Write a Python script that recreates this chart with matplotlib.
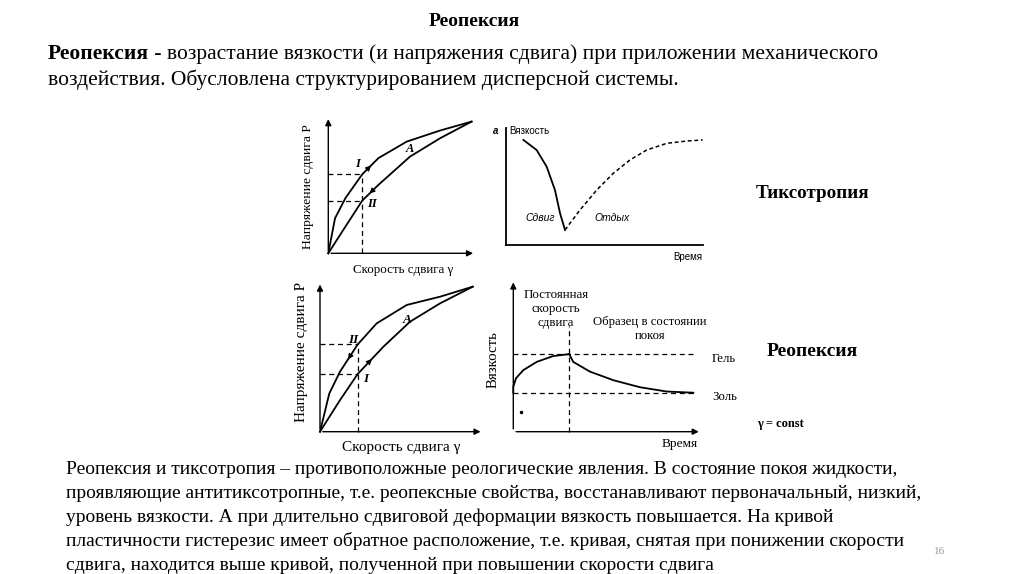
import numpy as np
import matplotlib
matplotlib.use("Agg")
import matplotlib.pyplot as plt

W, H = 1024, 574
SERIF = "Liberation Serif"
SANS = "Liberation Sans"

# --- диаграмма 1: тиксотропия, кривые течения (x, y в долях от конечной точки)
tix_up_x = [0, 0.047, 0.12, 0.237, 0.349, 0.547, 0.779, 1.0]
tix_up_y = [0, 0.266, 0.42, 0.60, 0.722, 0.848, 0.932, 1.0]
tix_dn_x = [0, 0.10, 0.237, 0.349, 0.570, 0.779, 1.0]
tix_dn_y = [0, 0.17, 0.400, 0.519, 0.734, 0.873, 1.0]
tix_gamma = 0.237

# --- диаграмма 2: вязкость во времени (сдвиг / отдых)
shear_t = [0.90, 1.57, 2.08, 2.50, 2.76, 3.01]
shear_v = [0.90, 0.814, 0.671, 0.471, 0.271, 0.129]
rest_t = [3.01, 3.77, 4.62, 5.46, 6.31, 7.16, 8.17, 9.19, 10.0]
rest_v = [0.129, 0.300, 0.471, 0.614, 0.729, 0.814, 0.871, 0.891, 0.90]

# --- диаграмма 3: реопексия, кривые течения
rheo_up_x = [0, 0.061, 0.131, 0.247, 0.371, 0.568, 0.786, 1.0]
rheo_up_y = [0, 0.264, 0.414, 0.602, 0.747, 0.874, 0.931, 1.0]
rheo_dn_x = [0, 0.131, 0.247, 0.415, 0.590, 0.786, 1.0]
rheo_dn_y = [0, 0.218, 0.398, 0.586, 0.759, 0.885, 1.0]
rheo_gamma = 0.247

# --- диаграмма 4: вязкость при gamma = const
load_t = [0, 0.15, 0.56, 1.30, 2.22, 3.11]
load_v = [1.15, 1.37, 1.58, 1.79, 1.94, 1.99]
relax_t = [3.11, 3.33, 4.26, 5.56, 7.04, 8.52, 10.0]
relax_v = [1.99, 1.79, 1.54, 1.32, 1.14, 1.03, 1.0]
gel, sol = 2.0, 1.0

fig = plt.figure(figsize=(W / 100, H / 100), dpi=100)
fig.patch.set_facecolor("white")


def panel(ox, oy, sx, sy, xlim, ylim):
    # оси, где точка (0,0) попадает в пиксель (ox, oy), sx/sy - пикселей на единицу
    left = ox + xlim[0] * sx
    bottom = oy - ylim[0] * sy
    ax = fig.add_axes([left / W, 1 - bottom / H,
                       (xlim[1] - xlim[0]) * sx / W, (ylim[1] - ylim[0]) * sy / H])
    ax.set_xlim(*xlim)
    ax.set_ylim(*ylim)
    ax.axis("off")
    return ax


def arrows(ax, xmax, ymax):
    kw = dict(arrowstyle="-|>", color="black", lw=1.0, mutation_scale=9)
    ax.annotate("", xy=(0, ymax), xytext=(0, 0), arrowprops=kw)
    ax.annotate("", xy=(xmax, 0), xytext=(0, 0), arrowprops=kw)


def mid_arrow(ax, xs, ys, i, reverse=False):
    p0 = np.array([xs[i], ys[i]])
    p1 = np.array([xs[i + 1], ys[i + 1]])
    m = (p0 + p1) / 2
    d = (p1 - p0) * 0.05
    if reverse:
        d = -d
    ax.annotate("", xy=m + d, xytext=m - d,
                arrowprops=dict(arrowstyle="-|>", color="black", lw=0.8,
                                mutation_scale=8))


def txt(x, y, s, **kw):
    kw.setdefault("family", SERIF)
    return fig.text(x / W, 1 - y / H, s, **kw)


dash = dict(color="black", lw=0.9, ls=(0, (4, 3)))

# ---------- диаграмма 1
ax1 = panel(328.3, 253.3, 143.3, 131.7, (-0.35, 1.15), (-0.3, 1.12))
arrows(ax1, 1.03, 1.04)
ax1.plot(tix_up_x, tix_up_y, color="black", lw=1.3)
ax1.plot(tix_dn_x, tix_dn_y, color="black", lw=1.3)
yu = np.interp(tix_gamma, tix_up_x, tix_up_y)
yd = np.interp(tix_gamma, tix_dn_x, tix_dn_y)
ax1.plot([tix_gamma, tix_gamma], [0, yu], **dash)
ax1.plot([0, tix_gamma], [yu, yu], **dash)
ax1.plot([0, tix_gamma], [yd, yd], **dash)
mid_arrow(ax1, tix_up_x, tix_up_y, 3)
mid_arrow(ax1, tix_dn_x, tix_dn_y, 2, reverse=True)
txt(358, 164, "I", fontsize=9, style="italic", weight="bold", ha="center", va="center")
txt(372, 204, "II", fontsize=9, style="italic", weight="bold", ha="center", va="center")
txt(410, 149, "A", fontsize=9, style="italic", weight="bold", ha="center", va="center")
txt(308, 187, "Напряжение сдвига P", fontsize=9.7, rotation=90, ha="center", va="center")
txt(403, 270, "Скорость сдвига γ", fontsize=9.4, ha="center", va="center")

# ---------- диаграмма 2
ax2 = panel(505.7, 245.0, 19.7, 116.7, (-0.8, 10.4), (-0.35, 1.12))
ax2.plot([0, 0], [0, 1.0], color="black", lw=1.3)
ax2.plot([0, 10.0], [0, 0], color="black", lw=1.3)
ax2.plot(shear_t, shear_v, color="black", lw=1.3)
ax2.plot(rest_t, rest_v, color="black", lw=1.1, ls=(0, (2.5, 1.8)))
txt(496, 131, "а", family=SANS, fontsize=7, style="italic", weight="bold", ha="center", va="center")
txt(509, 131, "Вязкость", family=SANS, fontsize=7, ha="left", va="center")
txt(540, 218, "Сдвиг", family=SANS, fontsize=7.5, style="italic", ha="center", va="center")
txt(612, 218, "Отдых", family=SANS, fontsize=7.5, style="italic", ha="center", va="center")
txt(702, 257, "Время", family=SANS, fontsize=7, ha="right", va="center")

# ---------- диаграмма 3
ax3 = panel(320.0, 431.7, 152.7, 145.0, (-0.3, 1.15), (-0.25, 1.06))
arrows(ax3, 1.07, 1.034)
ax3.plot(rheo_up_x, rheo_up_y, color="black", lw=1.3)
ax3.plot(rheo_dn_x, rheo_dn_y, color="black", lw=1.3)
yu = np.interp(rheo_gamma, rheo_up_x, rheo_up_y)
yd = np.interp(rheo_gamma, rheo_dn_x, rheo_dn_y)
ax3.plot([rheo_gamma, rheo_gamma], [0, yu], **dash)
ax3.plot([0, rheo_gamma], [yu, yu], **dash)
ax3.plot([0, rheo_gamma], [yd, yd], **dash)
mid_arrow(ax3, rheo_up_x, rheo_up_y, 2, reverse=True)
mid_arrow(ax3, rheo_dn_x, rheo_dn_y, 2)
txt(353, 340, "II", fontsize=9.5, style="italic", weight="bold", ha="center", va="center")
txt(366, 379, "I", fontsize=9.5, style="italic", weight="bold", ha="center", va="center")
txt(407, 320, "A", fontsize=9.5, style="italic", weight="bold", ha="center", va="center")
txt(302, 352, "Напряжение сдвига P", fontsize=11, rotation=90, ha="center", va="center")
txt(401, 447, "Скорость сдвига γ", fontsize=11, ha="center", va="center")

# ---------- диаграмма 4
ax4 = panel(513.3, 431.7, 18.0, 39.0, (-1.5, 11.5), (-0.6, 4.0))
arrows(ax4, 10.46, 3.9)
ax4.plot([0, 10.0], [gel, gel], **dash)
ax4.plot([0, 10.0], [sol, sol], **dash)
ax4.plot([load_t[-1], load_t[-1]], [0, 2.7], **dash)
ax4.plot([0] + load_t, [sol] + load_v, color="black", lw=1.3)
ax4.plot(relax_t, relax_v, color="black", lw=1.3)
ax4.plot([0.45], [0.5], "o", color="black", ms=1.5)
txt(556, 309, "Постоянная\nскорость\nсдвига", fontsize=9.3, ha="center", va="center",
    linespacing=1.25)
txt(650, 329, "Образец в состоянии\nпокоя", fontsize=9.2, ha="center", va="center",
    linespacing=1.3)
txt(712, 359, "Гель", fontsize=9.2, ha="left", va="center")
txt(712, 397, "Золь", fontsize=9.2, ha="left", va="center")
txt(493, 360, "Вязкость", fontsize=10.7, rotation=90, ha="center", va="center")
txt(698, 444, "Время", fontsize=9.6, ha="right", va="center")
txt(757, 424, "γ = const", fontsize=9, weight="bold", ha="left", va="center")

# ---------- подписи справа
txt(812, 193, "Тиксотропия", fontsize=13.7, weight="bold", ha="center", va="center")
txt(812, 352, "Реопексия", fontsize=14, weight="bold", ha="center", va="center")

# ---------- заголовок и тексты
txt(474, 21, "Реопексия", fontsize=14, weight="bold", ha="center", va="center")
head = txt(48, 54, "Реопексия", fontsize=15.5, weight="bold", ha="left", va="center")
rend = fig.canvas.get_renderer()
bb = head.get_window_extent(renderer=rend)
txt(48 + bb.width, 54, " - возрастание вязкости (и напряжения сдвига) при приложении механического",
    fontsize=15.5, ha="left", va="center")
txt(48, 80, "воздействия. Обусловлена структурированием дисперсной системы.",
    fontsize=15.5, ha="left", va="center")

body = [
    "Реопексия и тиксотропия – противоположные реологические явления. В состояние покоя жидкости,",
    "проявляющие антитиксотропные, т.е. реопексные свойства, восстанавливают первоначальный, низкий,",
    "уровень вязкости. А при длительно сдвиговой деформации вязкость повышается. На кривой",
    "пластичности гистерезис имеет обратное расположение, т.е. кривая, снятая при понижении скорости",
    "сдвига, находится выше кривой, полученной при повышении скорости сдвига",
]
for i, line in enumerate(body):
    txt(66, 470 + i * 23.8, line, fontsize=14, ha="left", va="center")

txt(940, 552, "16", fontsize=8, color="#999999", ha="center", va="center")

fig.savefig("out.png", dpi=100)
